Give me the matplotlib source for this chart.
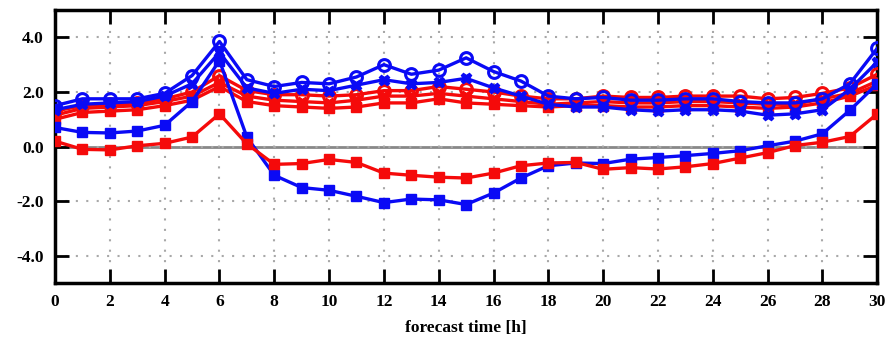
import matplotlib
matplotlib.use('Agg')
import matplotlib.pyplot as plt

# forecast hours
hours = list(range(31))

# blue series
blue_circle = [1.5, 1.75, 1.75, 1.75, 1.95, 2.6, 3.85, 2.45, 2.2, 2.35, 2.3, 2.55, 3.0, 2.65, 2.8, 3.25,
               2.75, 2.4, 1.85, 1.75, 1.8, 1.7, 1.7, 1.75, 1.75, 1.65, 1.6, 1.6, 1.75, 2.3, 3.6]
blue_x = [1.35, 1.55, 1.6, 1.65, 1.85, 2.3, 3.45, 2.15, 1.95, 2.1, 2.05, 2.25, 2.45, 2.3, 2.35, 2.5,
          2.15, 1.85, 1.55, 1.45, 1.45, 1.35, 1.3, 1.35, 1.35, 1.3, 1.15, 1.2, 1.35, 2.1, 3.1]
blue_square = [0.7, 0.52, 0.5, 0.57, 0.78, 1.65, 3.15, 0.35, -1.05, -1.5, -1.6, -1.82, -2.05, -1.92, -1.95, -2.12,
               -1.7, -1.15, -0.7, -0.6, -0.62, -0.46, -0.4, -0.33, -0.25, -0.15, 0.03, 0.2, 0.47, 1.33, 2.3]

# red series
red_circle = [1.3, 1.5, 1.55, 1.6, 1.75, 2.0, 2.6, 2.05, 1.9, 1.9, 1.85, 1.9, 2.05, 2.05, 2.2, 2.1,
              2.0, 1.85, 1.75, 1.75, 1.85, 1.8, 1.8, 1.85, 1.85, 1.85, 1.75, 1.8, 1.95, 2.15, 2.65]
red_x = [1.15, 1.4, 1.45, 1.5, 1.65, 1.85, 2.35, 1.85, 1.7, 1.65, 1.6, 1.7, 1.85, 1.85, 1.95, 1.85,
         1.75, 1.65, 1.55, 1.6, 1.65, 1.6, 1.6, 1.65, 1.65, 1.6, 1.55, 1.55, 1.75, 1.95, 2.4]
red_fill = [1.0, 1.25, 1.3, 1.35, 1.5, 1.7, 2.2, 1.65, 1.5, 1.45, 1.4, 1.45, 1.6, 1.6, 1.75, 1.6,
            1.55, 1.5, 1.45, 1.5, 1.5, 1.45, 1.45, 1.5, 1.5, 1.45, 1.4, 1.45, 1.6, 1.85, 2.25]
red_square = [0.2, -0.1, -0.12, 0.03, 0.12, 0.35, 1.2, 0.1, -0.65, -0.62, -0.47, -0.58, -0.97, -1.05, -1.12, -1.15,
              -0.97, -0.7, -0.6, -0.58, -0.83, -0.77, -0.82, -0.74, -0.62, -0.42, -0.22, 0.04, 0.16, 0.37, 1.2]

xticks = list(range(0, 31, 2))
yticks = [-4, -2, 0, 2, 4]
ylabels = ['-4.0', '-2.0', '0.0', '2.0', '4.0']

plt.rcParams['font.family'] = ['Liberation Serif', 'DejaVu Serif']
plt.rcParams['font.weight'] = 'bold'

fig = plt.figure(figsize=(8.87, 3.47), dpi=100)
ax = fig.add_axes([0.062, 0.184, 0.927, 0.787])

blue = '#0a0af5'
red = '#f50a0a'

ax.axhline(0, color='#888888', lw=2, zorder=1)
ax.grid(True, ls=(0, (1, 4)), color='#a8a8a8', lw=1.5, zorder=0)

lw = 2.4
ms = 7.5
ax.plot(hours, red_fill, color=red, lw=lw, marker='s', ms=ms - 1, zorder=3)
ax.plot(hours, red_x, color=red, lw=lw, marker='X', ms=ms, zorder=3)
ax.plot(hours, red_circle, color=red, lw=lw, marker='o', ms=ms + 1, mfc='none', mew=2.2, zorder=3)
ax.plot(hours, blue_x, color=blue, lw=lw, marker='X', ms=ms, zorder=4)
ax.plot(hours, blue_circle, color=blue, lw=lw, marker='o', ms=ms + 1, mfc='none', mew=2.2, zorder=4)
ax.plot(hours, blue_square, color=blue, lw=lw, marker='s', ms=ms, zorder=4)
ax.plot(hours, red_square, color=red, lw=lw, marker='s', ms=ms, zorder=5)

ax.set_xlim(0, 30)
ax.set_ylim(-5, 5)
ax.set_xticks(xticks)
ax.set_yticks(yticks)
ax.set_yticklabels(ylabels)
ax.tick_params(direction='in', length=10, width=2, top=True, right=True,
               labelsize=12.5, pad=8)
for s in ax.spines.values():
    s.set_linewidth(2.5)

ax.set_xlabel('forecast time [h]', fontsize=12.5, fontweight='bold', labelpad=7)

fig.savefig('out.png', dpi=100)
